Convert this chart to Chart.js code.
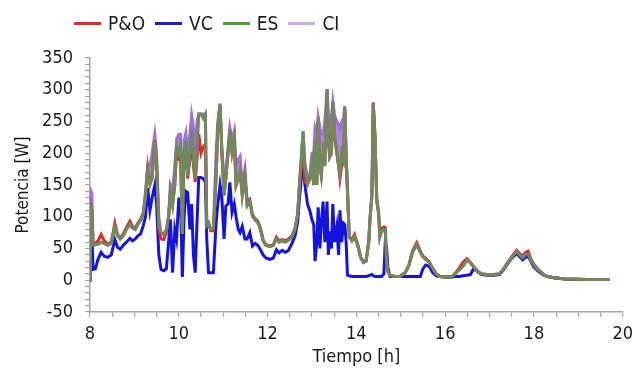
<!DOCTYPE html>
<html>
<head>
<meta charset="utf-8">
<script src="https://cdn.jsdelivr.net/npm/chart.js@4.4.1/dist/chart.umd.min.js"></script>
<style>
  body { margin: 0; background: #fff; }
  #wrap { position: relative; width: 640px; height: 372px; }
  #legend {
    position: absolute; top: 12px; left: 74px;
    display: flex; align-items: center;
    font-family: "DejaVu Sans Condensed", "DejaVu Sans", sans-serif;
    font-size: 19px; color: #1a1a1a;
  }
  #legend .item { display: flex; align-items: center; margin-right: 10px; }
  #legend .swatch { width: 27px; height: 3px; margin-right: 7px; }
</style>
</head>
<body>
<div id="wrap">
  <div id="legend"></div>
  <canvas id="chart" width="640" height="372"></canvas>
</div>
<script>
// time axis (hours) and the four traces
const times = [
  8.00, 8.01, 8.04, 8.07, 8.12, 8.18, 8.25, 8.32, 8.40, 8.48, 8.56, 8.62, 8.68, 8.75, 8.82, 8.90, 8.96,
  9.02, 9.08, 9.14, 9.20, 9.25, 9.30, 9.35, 9.40, 9.46, 9.50, 9.55, 9.60, 9.66, 9.72, 9.77, 9.81, 9.86, 9.91, 9.95,
  10.00, 10.04, 10.08, 10.12, 10.16, 10.20, 10.25, 10.29, 10.33, 10.37, 10.41, 10.45, 10.50, 10.55, 10.60, 10.63,
  10.67, 10.72, 10.78, 10.84, 10.88, 10.93, 10.97, 11.02, 11.06, 11.11, 11.15, 11.20, 11.25, 11.29, 11.34, 11.38,
  11.43, 11.49, 11.54, 11.60, 11.66, 11.72, 11.78, 11.84, 11.90, 11.96, 12.05, 12.13, 12.20, 12.26, 12.33, 12.40,
  12.47, 12.55, 12.62, 12.68, 12.72, 12.76, 12.80, 12.84, 12.90, 12.95, 13.00, 13.04, 13.07, 13.11, 13.14, 13.18,
  13.21, 13.25, 13.29, 13.34, 13.37, 13.40, 13.44, 13.47, 13.51, 13.56, 13.60, 13.63, 13.67, 13.71, 13.74, 13.77,
  13.80, 13.84, 13.90, 13.96, 14.04, 14.10, 14.16, 14.22, 14.28, 14.31, 14.35, 14.38, 14.42, 14.46, 14.50, 14.53,
  14.57, 14.62, 14.65, 14.68, 14.71, 14.76, 14.85, 14.98, 15.10, 15.18, 15.27, 15.36, 15.44, 15.50, 15.56, 15.64,
  15.72, 15.80, 15.88, 16.00, 16.15, 16.25, 16.33, 16.40, 16.49, 16.57, 16.64, 16.72, 16.82, 16.95, 17.10, 17.22,
  17.30, 17.39, 17.50, 17.61, 17.68, 17.75, 17.81, 17.87, 17.93, 17.99, 18.07, 18.14, 18.22, 18.30, 18.45, 18.70,
  19.20, 19.71
];

const poValues = [
  0, 120, 112, 57, 58, 62, 72, 62, 57, 60, 90, 72, 67, 73, 83, 93, 84,
  82, 90, 96, 106, 132, 178, 152, 163, 220, 182, 80, 65, 64, 75, 98, 138, 120, 150, 200,
  190, 190, 73, 200, 205, 160, 190, 225, 180, 155, 190, 230, 200, 210, 215, 88,
  90, 78, 78, 160, 240, 275, 200, 135, 160, 200, 235, 200, 220, 150, 160, 170,
  135, 165, 120, 125, 103, 97, 93, 82, 64, 56, 54, 56, 68, 62, 64, 62,
  65, 70, 82, 106, 152, 180, 200, 155, 151, 160, 180, 150, 210, 150, 250, 180,
  165, 200, 180, 295, 220, 194, 200, 280, 225, 200, 180, 160, 180, 185, 270, 190,
  140, 68, 64, 72, 54, 36, 29, 31, 62, 100, 135, 280, 228, 126, 106, 70,
  82, 84, 83, 31, 14, 8, 6, 6, 12, 23, 47, 59, 46, 38, 35, 29,
  19, 10, 6, 5, 5, 13, 20, 28, 34, 28, 22, 15, 10, 9, 9, 10,
  16, 26, 37, 47, 42, 38, 44, 46, 34, 26, 19, 14, 9, 6, 4, 2,
  1, 1
];

const vcValues = [
  0, 100, 80, 17, 18, 33, 44, 38, 36, 40, 64, 52, 49, 55, 60, 66, 62,
  65, 70, 73, 86, 100, 145, 110, 130, 150, 120, 40, 17, 15, 18, 60, 96, 12, 80, 65,
  128, 128, 5, 100, 140, 138, 80, 120, 40, 12, 90, 162, 162, 160, 155, 65,
  12, 12, 12, 90, 120, 150, 130, 65, 117, 120, 154, 107, 120, 100, 80, 75,
  85, 65, 65, 75, 54, 58, 55, 48, 40, 35, 33, 35, 48, 43, 47, 44,
  47, 58, 70, 93, 130, 160, 185, 151, 120, 110, 95, 88, 30, 60, 115, 50,
  90, 124, 60, 124, 40, 77, 50, 120, 60, 84, 40, 110, 60, 90, 88, 60,
  8, 7, 6, 6, 6, 6, 6, 6, 7, 8, 9, 7, 6, 6, 6, 6,
  6, 10, 58, 52, 20, 6, 6, 6, 6, 6, 6, 6, 6, 18, 24, 22,
  12, 7, 6, 5, 5, 6, 6, 7, 8, 9, 18, 14, 9, 8, 8, 9,
  15, 24, 35, 42, 37, 32, 36, 38, 30, 22, 16, 12, 8, 6, 4, 2,
  1, 1
];

const esValues = [
  0, 118, 110, 55, 56, 57, 60, 58, 55, 58, 84, 70, 65, 70, 80, 88, 82,
  80, 88, 94, 104, 130, 175, 150, 160, 218, 180, 85, 75, 72, 80, 100, 138, 117, 150, 212,
  200, 212, 73, 200, 220, 164, 200, 238, 190, 160, 200, 262, 262, 255, 262, 86,
  90, 80, 82, 160, 240, 278, 202, 133, 160, 200, 238, 202, 222, 149, 160, 172,
  133, 164, 117, 123, 101, 95, 91, 80, 62, 55, 53, 55, 66, 60, 62, 60,
  63, 68, 80, 104, 150, 190, 235, 178, 151, 160, 183, 150, 220, 150, 257, 180,
  165, 200, 180, 301, 220, 194, 200, 282, 230, 203, 180, 167, 200, 190, 274, 194,
  140, 68, 62, 69, 52, 35, 28, 30, 60, 99, 131, 278, 225, 124, 104, 68,
  77, 80, 80, 30, 14, 8, 6, 6, 12, 22, 45, 56, 44, 37, 33, 28,
  18, 10, 6, 5, 5, 12, 17, 22, 32, 27, 21, 14, 10, 9, 9, 10,
  16, 25, 36, 45, 40, 35, 41, 41, 32, 25, 18, 14, 9, 6, 4, 2,
  1, 1
];

const ciValues = [
  0, 142, 138, 55, 56, 57, 60, 58, 55, 58, 84, 70, 65, 70, 80, 88, 82,
  80, 88, 94, 104, 140, 180, 180, 200, 230, 200, 100, 75, 72, 80, 100, 150, 140, 180, 220,
  230, 230, 80, 220, 232, 200, 230, 260, 240, 200, 250, 262, 262, 262, 262, 86,
  90, 80, 82, 200, 250, 278, 210, 160, 170, 210, 240, 220, 235, 180, 190, 195,
  150, 175, 125, 128, 101, 95, 91, 80, 62, 55, 53, 55, 66, 60, 62, 60,
  63, 68, 80, 104, 155, 195, 235, 185, 160, 165, 200, 200, 240, 230, 257, 240,
  230, 230, 250, 301, 260, 250, 260, 282, 260, 250, 245, 240, 250, 255, 274, 200,
  150, 70, 62, 69, 52, 35, 28, 30, 60, 100, 131, 278, 225, 130, 110, 75,
  80, 80, 80, 30, 14, 8, 6, 6, 12, 22, 45, 56, 44, 37, 33, 28,
  18, 10, 6, 5, 5, 12, 17, 22, 32, 27, 21, 14, 10, 9, 9, 10,
  16, 25, 36, 45, 40, 35, 41, 41, 32, 25, 18, 14, 9, 6, 4, 2,
  1, 1
];

const seriesNames = ['P&O', 'VC', 'ES', 'CI'];
const legendColors = ['#e3272b', '#1c1cd8', '#4ea22f', '#cfaaf3'];
const lineColors = ['#e3272b', '#1414dc', '#6f8b5d', '#a46de0'];

const FONT = '"DejaVu Sans Condensed", "DejaVu Sans", sans-serif';

// html legend, laid out like the original
const legendEl = document.getElementById('legend');
seriesNames.forEach((name, i) => {
    const item = document.createElement('div');
    item.className = 'item';
    const sw = document.createElement('span');
    sw.className = 'swatch';
    sw.style.background = legendColors[i];
    const txt = document.createElement('span');
    txt.textContent = name;
    item.appendChild(sw);
    item.appendChild(txt);
    legendEl.appendChild(item);
});

const toPoints = vals => times.map((t, i) => ({ x: t, y: vals[i] }));

const lineSet = (idx, vals, order, extra = {}) => Object.assign({
    label: seriesNames[idx],
    data: toPoints(vals),
    borderColor: lineColors[idx],
    backgroundColor: lineColors[idx],
    borderWidth: 3,
    pointRadius: 0,
    tension: 0,
    fill: false,
    order,
}, extra);

const axisGray = '#a3a3a3';

new Chart(document.getElementById('chart').getContext('2d'), {
    type: 'line',
    data: {
        datasets: [
            lineSet(0, poValues, 1),
            lineSet(1, vcValues, 2),
            lineSet(2, esValues, 0),
            lineSet(3, ciValues, 3, { fill: 2, backgroundColor: 'rgba(164, 109, 224, 0.85)' }),
        ]
    },
    options: {
        responsive: false,
        animation: false,
        devicePixelRatio: 1,
        layout: { padding: { left: 13, right: 17, top: 58, bottom: 4 } },
        plugins: {
            legend: { display: false },
            tooltip: { enabled: false },
        },
        scales: {
            x: {
                type: 'linear',
                min: 8,
                max: 20,
                afterFit(scale) { scale.height = 372 - 312 - 4; },
                border: { display: true, color: axisGray, width: 1.5 },
                grid: {
                    drawOnChartArea: false,
                    drawTicks: true,
                    tickLength: 5,
                    color: axisGray,
                    lineWidth: 1.2,
                },
                ticks: {
                    stepSize: 0.5,
                    autoSkip: false,
                    maxRotation: 0,
                    padding: 7,
                    color: '#1a1a1a',
                    font: { family: FONT, size: 18 },
                    callback(value) {
                        return (Number.isInteger(value) && value % 2 === 0) ? String(value) : '';
                    }
                },
                title: {
                    display: true,
                    text: 'Tiempo [h]',
                    color: '#1a1a1a',
                    font: { family: FONT, size: 18 },
                    padding: { top: 0, bottom: 0 },
                }
            },
            y: {
                min: -50,
                max: 350,
                afterFit(scale) { scale.width = 90 - 13; },
                border: { display: true, color: axisGray, width: 1.5 },
                grid: {
                    drawOnChartArea: false,
                    drawTicks: true,
                    tickLength: 5,
                    color: axisGray,
                    lineWidth: 1.2,
                },
                ticks: {
                    stepSize: 10,
                    autoSkip: false,
                    padding: 12,
                    color: '#1a1a1a',
                    font: { family: FONT, size: 18 },
                    callback(value) {
                        return value % 50 === 0 ? String(value) : '';
                    }
                },
                title: {
                    display: true,
                    text: 'Potencia [W]',
                    color: '#1a1a1a',
                    font: { family: FONT, size: 17 },
                    padding: { top: 0, bottom: 2 },
                }
            }
        }
    }
});
</script>
</body>
</html>
